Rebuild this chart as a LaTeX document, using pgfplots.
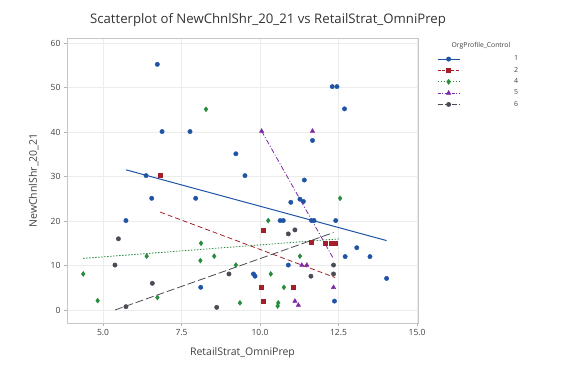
\documentclass[border=0pt]{standalone}
\usepackage{fontspec}
\setmainfont{Open Sans}
\usepackage{pgfplots}
\pgfplotsset{compat=1.18}
\definecolor{gA}{RGB}{31,84,165}
\definecolor{gB}{RGB}{165,30,40}
\definecolor{gC}{RGB}{40,140,60}
\definecolor{gD}{RGB}{125,40,165}
\definecolor{gE}{RGB}{75,75,85}
\begin{document}
\begin{tikzpicture}
\path[use as bounding box] (0pt,0pt) rectangle (561pt,370pt);
\node[font=\fontsize{13.2}{15}\selectfont, text=black!80] at (268pt,350pt) {Scatterplot of NewChnlShr\_20\_21 vs RetailStrat\_OmniPrep};
\node[font=\fontsize{6.8}{8}\selectfont, text=black!75] at (481pt,324pt) {OrgProfile\_Control};
\begin{axis}[at={(67pt,47pt)}, anchor=south west, scale only axis, width=351pt, height=285pt,
 xmin=3.853, xmax=15.03, ymin=-2.92, ymax=61.12,
 xtick={5,7.5,10,12.5,15}, ytick={0,10,...,60},
 xticklabel style={/pgf/number format/.cd, fixed, fixed zerofill, precision=1},
 /pgf/number format/assume math mode=true,
 grid=major, major grid style={draw=gray!15},
 axis line style={draw=gray!45},
 tick style={draw=gray!60}, tick align=outside, major tick length=3pt,
 xtick pos=bottom, ytick pos=left,
 ticklabel style={font=\fontsize{8.5}{10}\selectfont, text=black!75},
 xlabel={RetailStrat\_OmniPrep}, ylabel={NewChnlShr\_20\_21},
 label style={font=\fontsize{10.5}{12}\selectfont, text=black!75},
 x label style={at={(axis description cs:0.5,-0.105)}, anchor=center},
 y label style={at={(axis description cs:-0.095,0.5)}, anchor=center},
 legend style={at={(axis description cs:1.054,0.945)}, anchor=north west, draw=none, fill=none,
   font=\fontsize{7}{8}\selectfont, row sep=0.8pt, inner sep=0pt, text=black!75},
 legend image code/.code={\draw[mark repeat=2,mark phase=2] plot coordinates {(0pt,0pt)(11pt,0pt)(22pt,0pt)};},
]
% group 1
\addplot[only marks, mark=*, mark size=2.2pt, color=gA, forget plot] coordinates {
(6.73,55.2) (6.37,30.2) (6.55,25.1) (7.95,25.1) (5.73,20.1) (8.11,5.1) (9.52,30.2)
(12.30,50.2) (12.45,50.2) (12.69,45.2) (11.67,38.1) (11.41,29.2) (10.98,24.2) (11.27,24.9)
(11.38,24.4) (10.64,20.1) (10.74,20.1) (11.64,20.1) (11.72,20.1) (12.41,20.1) (13.08,14.0)
(12.71,12.0) (13.50,12.0) (10.90,10.1) (14.03,7.1) (12.37,2.0) (9.79,8.1) (9.84,7.6)
(6.88,40.1) (7.77,40.1) (9.23,35.1)};
% group 2
\addplot[only marks, mark=square*, mark size=2pt, color=gB, forget plot] coordinates {
(6.82,30.2) (10.11,18.0) (11.62,15.2) (12.07,15.1) (12.28,15.1) (12.39,15.1) (10.05,5.1)
(11.06,5.1) (10.10,2.0)};
% group 4
\addplot[only marks, mark=diamond*, mark size=2.5pt, color=gC, forget plot] coordinates {
(8.28,45.1) (4.37,8.1) (4.83,2.1) (6.39,12.1) (6.73,2.8) (8.12,15.0) (8.10,11.1) (8.54,12.1)
(9.23,10.1) (9.36,1.6) (12.55,25.1) (10.26,20.1) (11.27,12.1) (10.34,8.1) (10.76,5.1)
(10.58,1.6) (10.56,0.9)};
% group 5
\addplot[only marks, mark=triangle*, mark size=2.5pt, color=gD, forget plot] coordinates {
(10.05,40.2) (11.67,40.2) (11.33,10.1) (11.49,10.1) (12.34,5.1) (11.11,2.0) (11.22,1.1)};
% group 6
\addplot[only marks, mark=*, mark size=2.2pt, color=gE, forget plot] coordinates {
(5.49,16.0) (5.38,10.1) (5.73,0.75) (6.57,6.0) (8.62,0.6) (9.01,8.1) (10.90,17.1)
(11.11,18.0) (11.62,7.6) (12.34,10.1) (12.34,8.1)};
% fitted lines
\addplot[gA, line width=1pt, forget plot] coordinates {(5.73,31.5) (14.03,15.6)};
\addplot[gB, line width=0.8pt, dash pattern=on 5pt off 3pt, forget plot] coordinates {(6.82,22.0) (12.39,7.3)};
\addplot[gC, line width=0.8pt, dash pattern=on 1.5pt off 1.5pt, forget plot] coordinates {(4.37,11.6) (12.55,16.0)};
\addplot[gD, line width=0.8pt, dash pattern=on 5pt off 2pt on 1pt off 2pt, forget plot] coordinates {(10.05,40.2) (12.34,11.5)};
\addplot[gE, line width=0.8pt, dash pattern=on 8pt off 3pt, forget plot] coordinates {(5.38,0.0) (12.34,17.4)};
% legend
\addlegendimage{gA, line width=0.9pt, mark=*, mark size=2pt}
\addlegendentry{\makebox[56pt][r]{1}}
\addlegendimage{gB, line width=0.8pt, dash pattern=on 3pt off 1.5pt, mark=square*, mark size=1.9pt, mark options={solid}}
\addlegendentry{\makebox[56pt][r]{2}}
\addlegendimage{gC, line width=0.8pt, dash pattern=on 1.5pt off 1.5pt, mark=diamond*, mark size=2.3pt, mark options={solid}}
\addlegendentry{\makebox[56pt][r]{4}}
\addlegendimage{gD, line width=0.8pt, dash pattern=on 3pt off 1.5pt on 1pt off 1.5pt, mark=triangle*, mark size=2.3pt, mark options={solid}}
\addlegendentry{\makebox[56pt][r]{5}}
\addlegendimage{gE, line width=0.8pt, dash pattern=on 5pt off 2pt, mark=*, mark size=2pt, mark options={solid}}
\addlegendentry{\makebox[56pt][r]{6}}
\end{axis}
\end{tikzpicture}
\end{document}
